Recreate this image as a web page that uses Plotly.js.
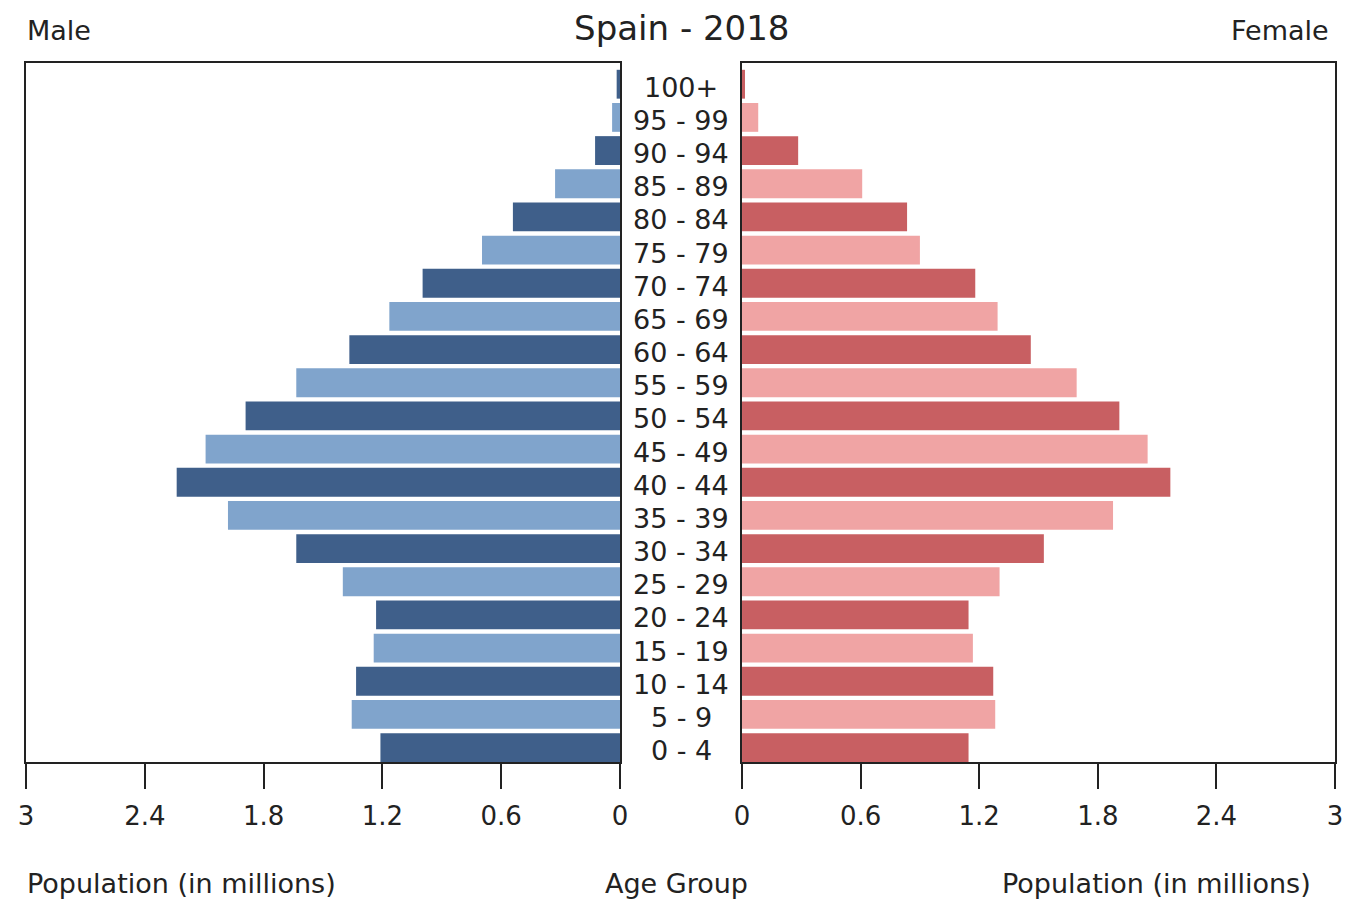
<!DOCTYPE html>
<html>
<head>
<meta charset="utf-8">
<script src="https://cdn.plot.ly/plotly-3.0.1.min.js"></script>
<style>html,body{margin:0;padding:0;background:#fff;}#chart{width:1348px;height:903px;}</style>
</head>
<body>
<div id="chart"></div>
<script>
// Age groups (bottom to top)
const ageGroups = ['0 - 4','5 - 9','10 - 14','15 - 19','20 - 24','25 - 29','30 - 34','35 - 39','40 - 44','45 - 49','50 - 54','55 - 59','60 - 64','65 - 69','70 - 74','75 - 79','80 - 84','85 - 89','90 - 94','95 - 99','100+'];
// Population in millions
const maleValues   = [1.21, 1.355, 1.333, 1.244, 1.232, 1.40, 1.635, 1.98, 2.239, 2.093, 1.891, 1.635, 1.367, 1.165, 0.997, 0.697, 0.541, 0.328, 0.126, 0.04, 0.017];
const femaleValues = [1.146, 1.281, 1.271, 1.168, 1.146, 1.303, 1.527, 1.877, 2.167, 2.052, 1.909, 1.693, 1.461, 1.293, 1.18, 0.90, 0.835, 0.608, 0.284, 0.082, 0.015];
const tickValues = [0, 0.6, 1.2, 1.8, 2.4, 3];
const tickLabels = ['0', '0.6', '1.2', '1.8', '2.4', '3'];
const chartTitle = 'Spain - 2018';
const leftLabel = 'Male';
const rightLabel = 'Female';
const xTitle = 'Population (in millions)';
const centerTitle = 'Age Group';

const maleDark = '#3f5f8a', maleLight = '#80a4cc';
const femDark = '#c85f62', femLight = '#f0a4a4';
const FONT = 'DejaVu Sans, Verdana, sans-serif';
const TXT = '#222';

const maleColors = ageGroups.map((_, i) => i % 2 === 0 ? maleDark : maleLight);
const femColors = ageGroups.map((_, i) => i % 2 === 0 ? femDark : femLight);

const traces = [
  {type: 'bar', orientation: 'h', y: ageGroups, x: maleValues, xaxis: 'x', yaxis: 'y',
   marker: {color: maleColors, line: {width: 0}}, hoverinfo: 'skip', showlegend: false},
  {type: 'bar', orientation: 'h', y: ageGroups, x: femaleValues, xaxis: 'x2', yaxis: 'y2',
   marker: {color: femColors, line: {width: 0}}, hoverinfo: 'skip', showlegend: false}
];

const axisCommon = {
  showgrid: false, zeroline: false, showline: true, linecolor: TXT, linewidth: 2, mirror: true,
  ticks: 'outside', ticklen: 25, tickwidth: 2, tickcolor: TXT, ticklabelstandoff: 5,
  tickvals: tickValues, ticktext: tickLabels,
  tickfont: {family: FONT, size: 26, color: TXT}, fixedrange: true
};
const yCommon = {
  type: 'category', categoryorder: 'array', categoryarray: ageGroups,
  range: [-0.435, 20.64], showgrid: false, zeroline: false, showline: true,
  linecolor: TXT, linewidth: 2, mirror: true, ticks: '', showticklabels: false, fixedrange: true
};

const annotations = ageGroups.map(g => ({
  text: g, xref: 'paper', yref: 'y', x: 0.5005, y: g, xanchor: 'center', yanchor: 'middle', yshift: -3,
  showarrow: false, font: {family: FONT, size: 27, color: TXT}
}));
annotations.push(
  {text: leftLabel, xref: 'paper', yref: 'paper', x: -0.001, y: 1.0458, xanchor: 'left', yanchor: 'middle', showarrow: false, font: {family: FONT, size: 27, color: TXT}},
  {text: rightLabel, xref: 'paper', yref: 'paper', x: 0.9969, y: 1.0458, xanchor: 'right', yanchor: 'middle', showarrow: false, font: {family: FONT, size: 27, color: TXT}},
  {text: xTitle, xref: 'paper', yref: 'paper', x: -0.001, y: -0.1745, xanchor: 'left', yanchor: 'middle', showarrow: false, font: {family: FONT, size: 27, color: TXT}},
  {text: xTitle, xref: 'paper', yref: 'paper', x: 0.9832, y: -0.1745, xanchor: 'right', yanchor: 'middle', showarrow: false, font: {family: FONT, size: 27, color: TXT}},
  {text: centerTitle, xref: 'paper', yref: 'paper', x: 0.4966, y: -0.1745, xanchor: 'center', yanchor: 'middle', showarrow: false, font: {family: FONT, size: 27, color: TXT}}
);

const layout = {
  width: 1348, height: 903,
  margin: {l: 26, r: 13, t: 63, b: 141, pad: 0},
  paper_bgcolor: '#fff', plot_bgcolor: '#fff',
  title: {text: chartTitle, xref: 'paper', x: 0.501, xanchor: 'center', yref: 'container', y: 0.969, yanchor: 'middle',
          font: {family: FONT, size: 34, color: TXT}},
  bargap: 0.13,
  xaxis: Object.assign({}, axisCommon, {domain: [0, 0.4538], range: [3, 0], anchor: 'y'}),
  xaxis2: Object.assign({}, axisCommon, {domain: [0.547, 1], range: [0, 3], anchor: 'y2'}),
  yaxis: Object.assign({}, yCommon, {anchor: 'x', side: 'left'}),
  yaxis2: Object.assign({}, yCommon, {anchor: 'x2', side: 'right', matches: 'y'}),
  annotations: annotations,
  showlegend: false
};

Plotly.newPlot('chart', traces, layout, {displayModeBar: false, staticPlot: true});
</script>
</body>
</html>
